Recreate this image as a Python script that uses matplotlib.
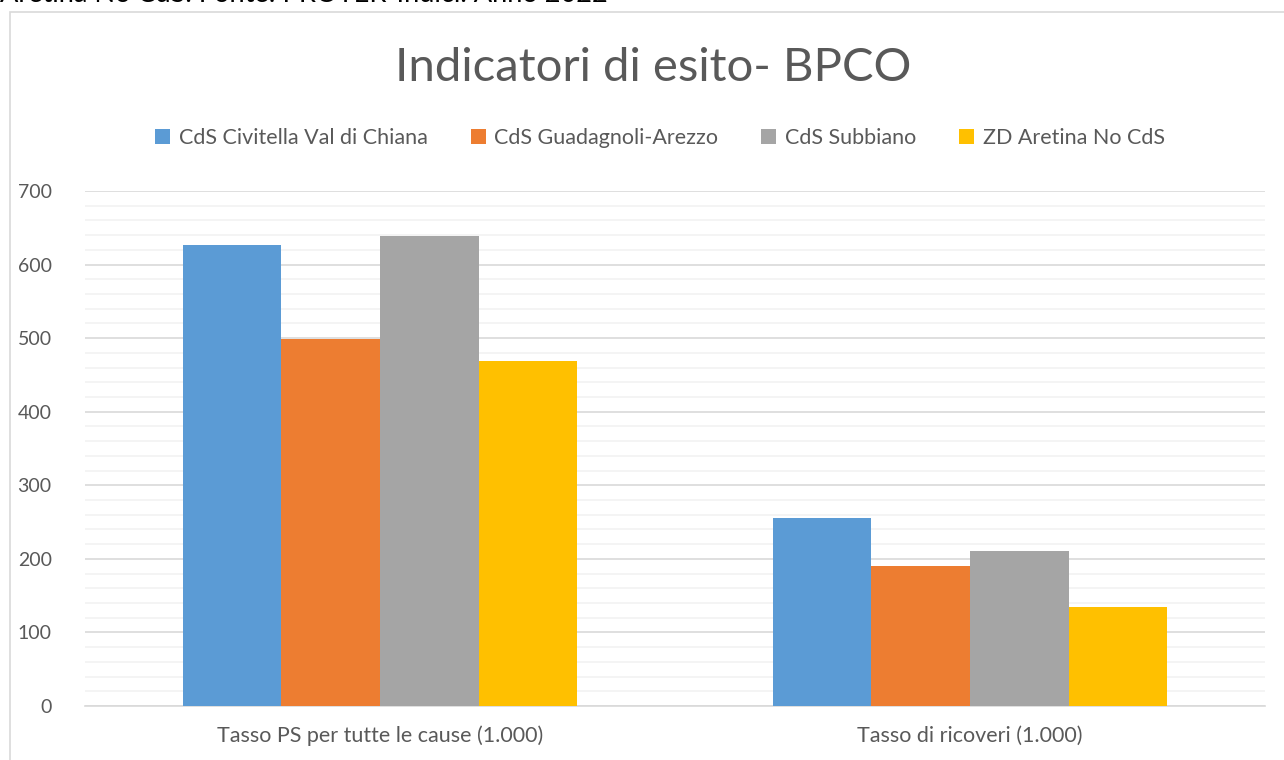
import numpy as np
import matplotlib.pyplot as plt
from matplotlib.patches import Rectangle
from matplotlib.ticker import MultipleLocator

plt.rcParams['font.family'] = ['Lato', 'DejaVu Sans']

categories = ['Tasso PS per tutte le cause (1.000)', 'Tasso di ricoveri (1.000)']
series = ['CdS Civitella Val di Chiana', 'CdS Guadagnoli-Arezzo', 'CdS Subbiano', 'ZD Aretina No CdS']
civitella = [626, 256]
guadagnoli = [499, 190]
subbiano = [639, 211]
aretina = [469, 135]
values = [civitella, guadagnoli, subbiano, aretina]
colors = ['#5B9BD5', '#ED7D31', '#A5A5A5', '#FFC000']

fig = plt.figure(figsize=(12.84, 7.6), dpi=100)
# caption of the page, cut off by the top edge
fig.text(0.0, 1 - 2.5 / 760, 'Aretina No CdS. Fonte: PROTER-Indici. Anno 2022', fontsize=19.5,
         color='black', ha='left', va='baseline')
# chart frame
fig.patches.append(Rectangle((10 / 1284, -0.1), 1.2, 1 - 12 / 760 + 0.1, transform=fig.transFigure,
                             fill=False, edgecolor='#D9D9D9', linewidth=1.2))

ax = fig.add_axes([85 / 1284, 1 - 706 / 760, 1180 / 1284, 515 / 760])
x = np.arange(len(categories))
w = 0.167
for i, (name, vals) in enumerate(zip(series, values)):
    ax.bar(x + (i - 1.5) * w, vals, width=w, color=colors[i], label=name, zorder=3)

ax.set_xlim(-0.5, 1.5)
ax.set_ylim(0, 700)
ax.yaxis.set_major_locator(MultipleLocator(100))
ax.yaxis.set_minor_locator(MultipleLocator(20))
ax.grid(axis='y', which='major', color='#D9D9D9', linewidth=1.2, zorder=0)
ax.grid(axis='y', which='minor', color='#F2F2F2', linewidth=1.2, zorder=0)
for s in ['top', 'right', 'left']:
    ax.spines[s].set_visible(False)
ax.spines['bottom'].set_color('#D9D9D9')
ax.spines['bottom'].set_linewidth(1.2)
ax.set_xticks(x)
ax.set_xticklabels(categories, fontsize=15.5)
ax.tick_params(axis='both', which='both', length=0, labelcolor='#595959')
ax.tick_params(axis='y', pad=24, labelsize=14)
ax.tick_params(axis='x', pad=14)

fig.text(0.5085, 0.91, 'Indicatori di esito- BPCO', fontsize=34, color='#595959',
         ha='center', va='center')
fig.legend(loc='center', bbox_to_anchor=(0.514, 1 - 138 / 760), ncol=4, frameon=False,
           fontsize=15.5, labelcolor='#595959', handlelength=0.7, handleheight=0.7,
           handletextpad=0.4, columnspacing=2.0)

fig.savefig('out.png', dpi=100)
